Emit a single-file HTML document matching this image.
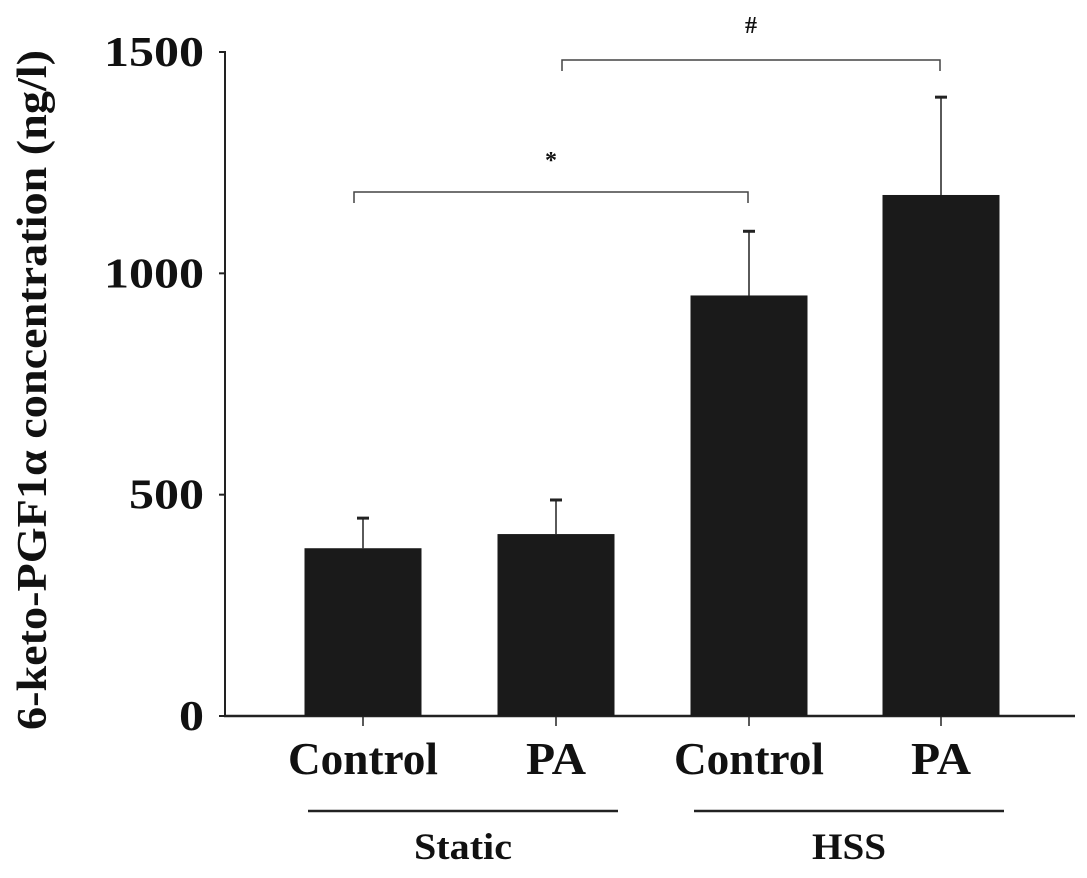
<!DOCTYPE html>
<html><head><meta charset="utf-8"><style>
body{margin:0;background:#fff;}
svg text{font-family:"Liberation Serif",serif;font-weight:bold;fill:#111;}
</style></head><body>
<svg width="1087" height="873" viewBox="0 0 1087 873">
<g id="chart"></g>
</svg>
<script>
const categories=["Control","PA","Control","PA"];
const values=[379,411,950,1177];
const errors=[68,77,145,221];
const yTicks=[0,500,1000,1500];
const groups=["Static","HSS"];
const NS="http://www.w3.org/2000/svg";
const g=document.getElementById('chart');
const y0=716,yTop=52,vMax=1500;
const y=v=>y0-(y0-yTop)*v/vMax;
const centers=[363,556,749,941];
const bw=117;
function mk(t,a){const e=document.createElementNS(NS,t);for(const k in a)e.setAttribute(k,a[k]);g.appendChild(e);return e;}
let ax=mk('line',{x1:225,y1:y(vMax)-1,x2:225,y2:y0,stroke:'#222','stroke-width':2});


let bx=mk('line',{x1:224,y1:y0,x2:1075,y2:y0,stroke:'#222','stroke-width':2.5});


yTicks.forEach(t=>{
 let l=mk('line',{x1:219,y1:y(t),x2:225,y2:y(t),stroke:'#222','stroke-width':2});
 
 
 const s=String(t);
 let tx=mk('text',{x:204,y:y(t)+14,'text-anchor':'end','font-size':42,textLength:s.length*25,lengthAdjust:'spacingAndGlyphs'});
 tx.textContent=s;
 
 
});
categories.forEach((c,i)=>{
 const cx=centers[i];
 let e=mk('line',{x1:cx,y1:y(values[i]+errors[i]),x2:cx,y2:y(values[i]),stroke:'#222','stroke-width':1.5});
 
 
 let cap=mk('line',{x1:cx-6,y1:y(values[i]+errors[i]),x2:cx+6,y2:y(values[i]+errors[i]),stroke:'#222','stroke-width':3});
 
 
 let r=mk('rect',{x:cx-bw/2,y:y(values[i]),width:bw,height:y0-y(values[i]),fill:'#1a1a1a'});
 
 
 let tk=mk('line',{x1:cx,y1:y0,x2:cx,y2:y0+10,stroke:'#222','stroke-width':1.5});
 
 
 let t=mk('text',{x:cx,y:774,'text-anchor':'middle','font-size':46,textLength:c.length>2?150:60,lengthAdjust:'spacingAndGlyphs'});
 t.textContent=c;
 
 
});
[[308,618],[694,1004]].forEach((p,i)=>{
 let l=mk('line',{x1:p[0],y1:811,x2:p[1],y2:811,stroke:'#222','stroke-width':2.5});
 
 
 let t=mk('text',{x:(p[0]+p[1])/2,y:859,'text-anchor':'middle','font-size':37,textLength:i?74:98,lengthAdjust:'spacingAndGlyphs'});
 t.textContent=groups[i];
 
 
});
function bracket(x1,x2,yb,sym,sy){
 let p=mk('path',{d:`M${x1},${yb+11}V${yb}H${x2}V${yb+11}`,fill:'none',stroke:'#444','stroke-width':1.5});
 
 
 let t=mk('text',{x:(x1+x2)/2,y:sy,'text-anchor':'middle','font-size':24});
 t.textContent=sym;
 
 
}
bracket(354,748,192,'*',168);
bracket(562,940,60,'#',33);
let yt=mk('text',{x:0,y:0,'text-anchor':'middle','font-size':42,textLength:680,lengthAdjust:'spacingAndGlyphs',transform:'translate(46,390) rotate(-90)'});
yt.textContent='6-keto-PGF1\u03b1 concentration (ng/l)';


</script>
</body></html>
